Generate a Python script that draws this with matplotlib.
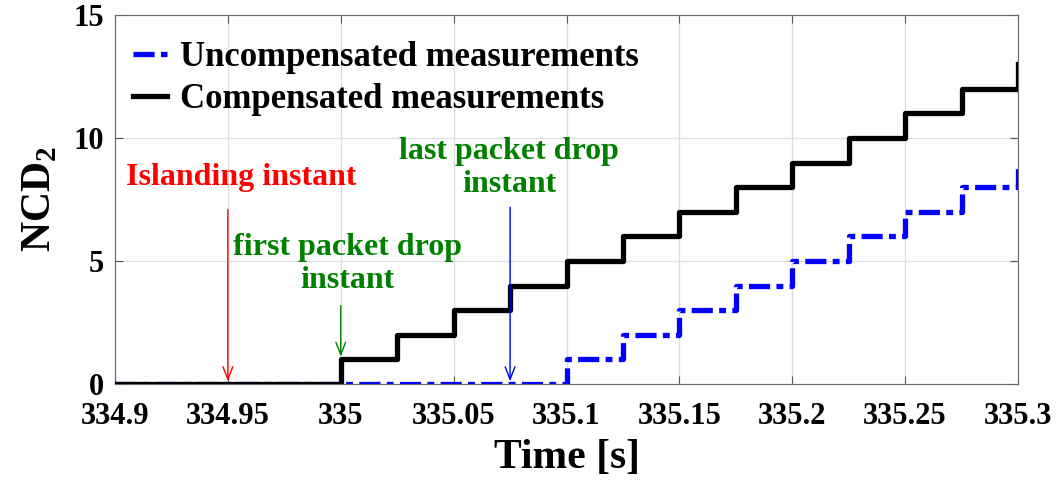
import matplotlib
matplotlib.use("Agg")
from matplotlib import pyplot as plt

# step edges (value holds until the next edge)
comp_t = [334.9, 335.0, 335.025, 335.05, 335.075, 335.1, 335.125, 335.15,
          335.175, 335.2, 335.225, 335.25, 335.275, 335.3]
comp_y = [0, 1, 2, 3, 4, 5, 6, 7, 8, 9, 10, 11, 12, 13]
uncomp_t = [334.9, 335.1, 335.125, 335.15, 335.175, 335.2, 335.225, 335.25,
            335.275, 335.3]
uncomp_y = [0, 1, 2, 3, 4, 5, 6, 7, 8, 9]

xticks = [334.9, 334.95, 335, 335.05, 335.1, 335.15, 335.2, 335.25, 335.3]
xticklabels = ["334.9", "334.95", "335", "335.05", "335.1", "335.15",
               "335.2", "335.25", "335.3"]
yticks = [0, 5, 10, 15]

plt.rcParams["font.family"] = "Liberation Serif"
plt.rcParams["font.weight"] = "bold"
plt.rcParams["mathtext.fontset"] = "custom"
plt.rcParams["mathtext.bf"] = "Liberation Serif:bold"

fig = plt.figure(figsize=(10.57, 4.82), dpi=100)
ax = fig.add_axes([115 / 1057, 1 - 384 / 482, (1018 - 115) / 1057, (384 - 15) / 482])

ax.plot(uncomp_t, uncomp_y, drawstyle="steps-post", color="blue", lw=3.8,
        linestyle=(0, (4, 1.2, 1.3, 1.2)), label="Uncompensated measurements", zorder=3)
ax.plot(comp_t, comp_y, drawstyle="steps-post", color="black", lw=3.8,
        label="Compensated measurements", zorder=4)

ax.set_xlim(334.9, 335.3)
ax.set_ylim(0, 15)
ax.set_xticks(xticks)
ax.set_xticklabels(xticklabels)
ax.set_yticks(yticks)
ax.tick_params(direction="in", top=True, right=True, labelsize=22, length=6,
               color="#555555")
ax.tick_params(axis="x", pad=13)
ax.tick_params(axis="y", pad=8)
for s in ax.spines.values():
    s.set_color("#666666")
ax.grid(True, color="#dddddd", lw=0.9)
ax.set_axisbelow(True)

ax.set_xlabel("Time [s]", fontsize=30, fontweight="bold", labelpad=6)
ax.set_ylabel(r"NCD$_\mathbf{2}$", fontsize=30, fontweight="bold", labelpad=10)

leg = ax.legend(loc="upper left", frameon=False, fontsize=25, handlelength=1.0,
                handletextpad=0.37, borderaxespad=0.0, borderpad=0.4,
                labelspacing=0.25, bbox_to_anchor=(0.004, 0.967))

arrow = dict(arrowstyle="->,head_length=0.9,head_width=0.35", lw=1.0)
ax.annotate("", xy=(334.95, 0), xytext=(334.95, 7.2),
            arrowprops=dict(arrow, color="red"), zorder=6)
ax.text(334.956, 8.4, "Islanding instant", color="red", fontsize=23,
        ha="center", va="center", fontweight="bold")

ax.annotate("", xy=(335.0, 1.0), xytext=(335.0, 3.3),
            arrowprops=dict(arrow, color="green"), zorder=6)
ax.text(335.003, 4.88, "first packet drop\ninstant", color="green", fontsize=23,
        ha="center", va="center", fontweight="bold", linespacing=1.22)

ax.annotate("", xy=(335.075, 0), xytext=(335.075, 7.3),
            arrowprops=dict(arrow, color="blue"), zorder=6)
ax.text(335.0745, 8.78, "last packet drop\ninstant", color="green", fontsize=23,
        ha="center", va="center", fontweight="bold", linespacing=1.17)

fig.savefig("out.png", dpi=100)
